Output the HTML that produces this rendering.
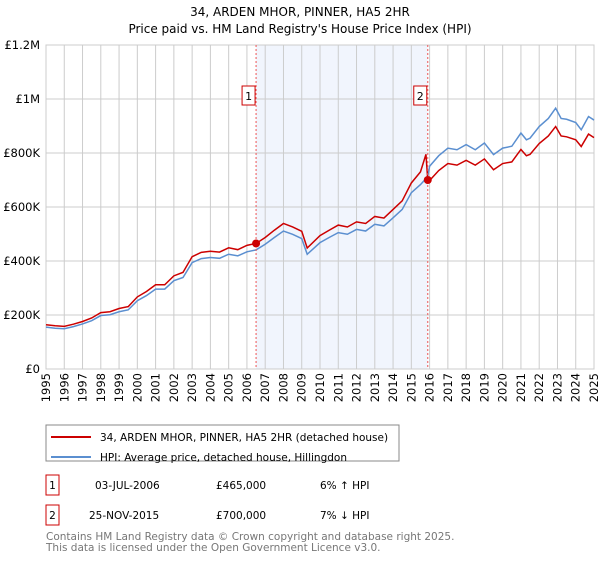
<!DOCTYPE html>
<html><head><meta charset="utf-8"><style>
body{margin:0;background:#fff;font-family:"DejaVu Sans","Liberation Sans",sans-serif;}
svg text{font-family:"DejaVu Sans","Liberation Sans",sans-serif;}
</style></head><body>
<svg id="c" width="600" height="560" xmlns="http://www.w3.org/2000/svg">
<text x="300" y="16" text-anchor="middle" font-size="12">34, ARDEN MHOR, PINNER, HA5 2HR</text>
<text x="300" y="33" text-anchor="middle" font-size="12">Price paid vs. HM Land Registry's House Price Index (HPI)</text>
<g id="grid"></g><g id="marks"></g>
<rect x="46" y="425" width="353" height="36" fill="#fff" stroke="#888"/>
<line x1="51" y1="437" x2="91" y2="437" stroke="#cc0000" stroke-width="2"/>
<text x="100" y="441" font-size="10.5">34, ARDEN MHOR, PINNER, HA5 2HR (detached house)</text>
<line x1="51" y1="457" x2="91" y2="457" stroke="#5b8fd0" stroke-width="2"/>
<text x="100" y="461" font-size="10.5">HPI: Average price, detached house, Hillingdon</text>
<g>
<rect x="46" y="475" width="13" height="20" fill="#fff" stroke="#cc0000"/><text x="52.5" y="489" font-size="10.5" text-anchor="middle">1</text>
<text x="95" y="489" font-size="10.5">03-JUL-2006</text><text x="216" y="489" font-size="10.5">£465,000</text><text x="320" y="489" font-size="10.5">6% ↑ HPI</text></g>
<g>
<rect x="46" y="505" width="13" height="20" fill="#fff" stroke="#cc0000"/><text x="52.5" y="519" font-size="10.5" text-anchor="middle">2</text>
<text x="89" y="519" font-size="10.5">25-NOV-2015</text><text x="216" y="519" font-size="10.5">£700,000</text><text x="320" y="519" font-size="10.5">7% ↓ HPI</text></g>
<text x="46" y="540" font-size="10.5" fill="#777">Contains HM Land Registry data © Crown copyright and database right 2025.</text>
<text x="46" y="551" font-size="10.5" fill="#777">This data is licensed under the Open Government Licence v3.0.</text>
</svg>
<script>
const years=[1995,1995.5,1996,1996.5,1997,1997.5,1998,1998.5,1999,1999.5,2000,2000.5,2001,2001.5,2002,2002.5,2003,2003.5,2004,2004.5,2005,2005.5,2006,2006.5,2007,2007.5,2008,2008.5,2009,2009.3,2010,2010.5,2011,2011.5,2012,2012.5,2013,2013.5,2014,2014.5,2015,2015.5,2015.8,2015.9,2016,2016.5,2017,2017.5,2018,2018.5,2019,2019.5,2020,2020.5,2021,2021.3,2021.5,2022,2022.5,2022.9,2023.2,2023.5,2024,2024.3,2024.7,2025];
const hpi=[155,151,149,157,167,179,198,201,212,219,253,272,296,296,327,339,394,409,413,410,425,419,434,441,462,487,511,499,483,425,468,487,505,499,517,511,536,530,560,591,653,683,705,714,751,790,818,812,831,812,837,794,818,825,874,849,855,898,928,966,928,925,913,886,935,922];
const prop=[164,160,158,166,176,189,209,212,224,231,267,287,312,312,345,358,416,432,436,433,449,442,458,465,487,514,539,526,510,448,494,514,533,526,545,539,565,559,591,623,689,730,795,700,698,735,761,755,773,755,778,738,761,767,813,790,795,835,863,898,863,860,849,824,870,857];
const saleYears=[2006.5,2015.9];
const saleValues=[465,700];
const yTicks=[0,200,400,600,800,1000,1200];
const yLabels=["£0","£200K","£400K","£600K","£800K","£1M","£1.2M"];
const xTicks=[1995,1996,1997,1998,1999,2000,2001,2002,2003,2004,2005,2006,2007,2008,2009,2010,2011,2012,2013,2014,2015,2016,2017,2018,2019,2020,2021,2022,2023,2024,2025];
const L=46,R=594,T=45,B=369;
const X=y=>L+(y-1995)/30*(R-L);
const Y=v=>B-v/1200*(B-T);
const NS="http://www.w3.org/2000/svg";
const g=document.getElementById('grid'),m=document.getElementById('marks');
function mk(p,tag,a){const e=document.createElementNS(NS,tag);for(const k in a)e.setAttribute(k,a[k]);p.appendChild(e);return e;}
const sh=mk(g,'rect',{x:X(saleYears[0]),y:T,width:X(saleYears[1])-X(saleYears[0]),height:B-T,fill:'#eef3fc',opacity:0.8});


yTicks.forEach((v,i)=>{
 const l=mk(g,'line',{x1:L,x2:R,y1:Y(v),y2:Y(v),stroke:'#ccc'});
 
 
 const t=mk(g,'text',{x:L-6,y:Y(v)+4,'text-anchor':'end','font-size':'11.5'});t.textContent=yLabels[i];
 
 
});
xTicks.forEach(yr=>{
 const l=mk(g,'line',{x1:X(yr),x2:X(yr),y1:T,y2:B,stroke:'#ccc'});
 
 
 const t=mk(g,'text',{x:0,y:0,'text-anchor':'end','font-size':'11.5',transform:`translate(${X(yr)+4},${B+4}) rotate(-90)`});t.textContent=yr;
 
 
});
mk(g,'rect',{x:L,y:T,width:R-L,height:B-T,fill:'none',stroke:'#ccc'});
function line(arr,col,name){const p=mk(m,'polyline',{points:years.map((y,i)=>X(y)+','+Y(arr[i])).join(' '),fill:'none',stroke:col,'stroke-width':1.5});
 
 }
line(hpi,'#5b8fd0','hpi-line');
line(prop,'#cc0000','property-line');
saleYears.forEach((yr,i)=>{
 const d=mk(m,'line',{x1:X(yr),x2:X(yr),y1:T,y2:B,stroke:'#e55','stroke-dasharray':'2,2'});
 
 
 const c=mk(m,'circle',{cx:X(yr),cy:Y(saleValues[i]),r:4,fill:'#cc0000'});
 
 
 const b=mk(m,'rect',{x:X(yr)-14,y:86,width:13,height:19,fill:'#fff',stroke:'#cc0000'});
 
 
 const t=mk(m,'text',{x:X(yr)-7.5,y:100,'text-anchor':'middle','font-size':'11'});t.textContent=i+1;
 
 
});
</script>
</body></html>
